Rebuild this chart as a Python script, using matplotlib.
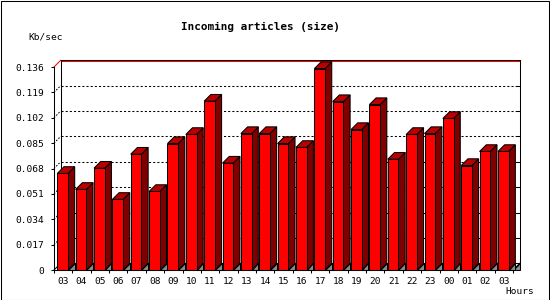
import matplotlib
matplotlib.use("Agg")
import matplotlib.pyplot as plt
from matplotlib.patches import Polygon, Rectangle
from matplotlib.lines import Line2D

# ---- data ----
hours = ["03", "04", "05", "06", "07", "08", "09", "10", "11", "12", "13", "14",
         "15", "16", "17", "18", "19", "20", "21", "22", "23", "00", "01", "02", "03"]
values = [0.0647, 0.0540, 0.0682, 0.0473, 0.0776, 0.0526, 0.0847, 0.0908, 0.1131,
          0.0716, 0.0914, 0.0914, 0.0847, 0.0821, 0.1349, 0.1128, 0.0941, 0.1108,
          0.0742, 0.0908, 0.0914, 0.1015, 0.0700, 0.0794, 0.0794]
y_ticks = [0, 0.017, 0.034, 0.051, 0.068, 0.085, 0.102, 0.119, 0.136]
y_labels = ["0", "0.017", "0.034", "0.051", "0.068", "0.085", "0.102", "0.119", "0.136"]
title = "Incoming articles (size)"
y_title = "Kb/sec"
x_title = "Hours"

# ---- figure geometry (pixels) ----
W, H, DPI = 550, 300, 100
fig = plt.figure(figsize=(W / DPI, H / DPI), dpi=DPI, facecolor="white")
ax_l, ax_r, ax_t, ax_b = 54, 513, 67, 270
ax = fig.add_axes([ax_l / W, (H - ax_b) / H, (ax_r - ax_l) / W, (ax_b - ax_t) / H])
ax.set_facecolor("none")
n = len(values)
ymax = y_ticks[-1]
ax.set_xlim(-0.5, n - 0.5)
ax.set_ylim(0, ymax)

px_x = (ax_r - ax_l) / n          # pixels per x unit
px_y = (ax_b - ax_t) / ymax       # pixels per y unit
depth = 6.7                       # 3D depth in pixels
dx = depth / px_x
dy = depth / px_y
px1 = 1 / px_y

LW = 0.75
FONT = "DejaVu Sans Mono"

x0, x1 = -0.5, n - 0.5

# back wall gridlines (dotted) and left side-wall diagonals
for v in y_ticks[1:-1]:
    ax.add_line(Line2D([x0 + dx, x1 + dx], [v + dy, v + dy], color="black",
                       lw=LW, linestyle=(0, (2, 2)), zorder=1, clip_on=False))
    ax.add_line(Line2D([x0, x0 + dx], [v, v + dy], color="black",
                       lw=LW, linestyle=(0, (1.5, 1.5)), zorder=1, clip_on=False))
    # right-hand ticks on the back wall
    ax.add_line(Line2D([x1 + dx - 3 / px_x, x1 + dx], [v + dy, v + dy], color="black",
                       lw=LW, zorder=1, clip_on=False))

# top red line and frame of back wall
ax.add_line(Line2D([x0 + dx, x1 + dx], [ymax + dy - px1, ymax + dy - px1], color="red",
                   lw=LW, zorder=1.5, clip_on=False))
ax.add_line(Line2D([x0, x0 + dx], [ymax, ymax + dy], color="red",
                   lw=LW, zorder=1.5, clip_on=False))
ax.add_line(Line2D([x0 + dx, x1 + dx], [ymax + dy, ymax + dy], color="black",
                   lw=LW, zorder=1.6, clip_on=False))
ax.add_line(Line2D([x0 + dx, x0 + dx], [dy, ymax + dy], color="black",
                   lw=LW, zorder=1.6, clip_on=False))
ax.add_line(Line2D([x1 + dx, x1 + dx], [dy, ymax + dy], color="black",
                   lw=LW, zorder=1.6, clip_on=False))
ax.add_line(Line2D([x0 + dx, x1 + dx], [dy, dy], color="black",
                   lw=LW, zorder=1.6, clip_on=False))
ax.add_line(Line2D([x0, x0 + dx], [0, dy], color="black",
                   lw=LW, zorder=1.6, clip_on=False))
ax.add_line(Line2D([x1, x1 + dx], [0, dy], color="black",
                   lw=LW, zorder=1.6, clip_on=False))
ax.add_patch(Polygon([[x1, 0], [x1 + dx, 0], [x1 + dx, dy]], closed=True,
                     facecolor="#8c8c8c", edgecolor="black", lw=LW, zorder=1.7,
                     clip_on=False))

# 3D bars
bw = 10.7 / px_x
off = 3.3 / px_x
lefts = [i - 0.5 + off for i in range(n)]
for xl, v in zip(lefts, values):
    xr = xl + bw
    ax.add_patch(Polygon([[xr, 0], [xr + dx, 0], [xr + dx, dy]], closed=True,
                         facecolor="#8c8c8c", edgecolor="black", lw=LW, zorder=2,
                         clip_on=False))
    ax.add_patch(Polygon([[xr, 0], [xr + dx, dy], [xr + dx, v + dy], [xr, v]],
                         closed=True, facecolor="#800000", edgecolor="black",
                         lw=LW, zorder=2.1, clip_on=False))
    ax.add_patch(Polygon([[xl, v], [xr, v], [xr + dx, v + dy], [xl + dx, v + dy]],
                         closed=True, facecolor="#bb0000", edgecolor="black",
                         lw=LW, zorder=2.1, clip_on=False))
ax.bar(lefts, values, width=bw, align="edge", color="#ff0000", edgecolor="black",
       linewidth=LW, zorder=2.2, clip_on=False)

# axes & ticks
for s in ["top", "right"]:
    ax.spines[s].set_visible(False)
for s in ["left", "bottom"]:
    ax.spines[s].set_linewidth(LW)
    ax.spines[s].set_zorder(3)

ax.set_yticks(y_ticks)
ax.set_yticklabels(y_labels, fontfamily=FONT, fontsize=6.8)
ax.tick_params(axis="y", direction="out", length=2.2, width=LW, pad=5)
ax.set_xticks(range(n))
ax.set_xticklabels(hours, fontfamily=FONT, fontsize=6.8)
ax.set_xticks([i - 0.5 for i in range(n + 1)], minor=True)
ax.tick_params(axis="x", which="major", length=0, pad=5)
ax.tick_params(axis="x", which="minor", direction="out", length=2.4, width=LW)

# texts
fig.text(260.5 / W, 1 - 26.7 / H, title, ha="center", va="center",
         fontfamily=FONT, fontweight="bold", fontsize=7.9)
fig.text(28 / W, 1 - 37 / H, y_title, ha="left", va="center",
         fontfamily=FONT, fontsize=6.8)
fig.text(505 / W, 1 - 292 / H, x_title, ha="left", va="center",
         fontfamily=FONT, fontsize=6.8)

# outer border
fig.patches.append(Rectangle((0.5 / W, 0.5 / H), (W - 1.5) / W, (H - 1.5) / H,
                             transform=fig.transFigure, fill=False,
                             edgecolor="black", lw=LW))

fig.savefig("out.png", dpi=DPI, facecolor="white")
